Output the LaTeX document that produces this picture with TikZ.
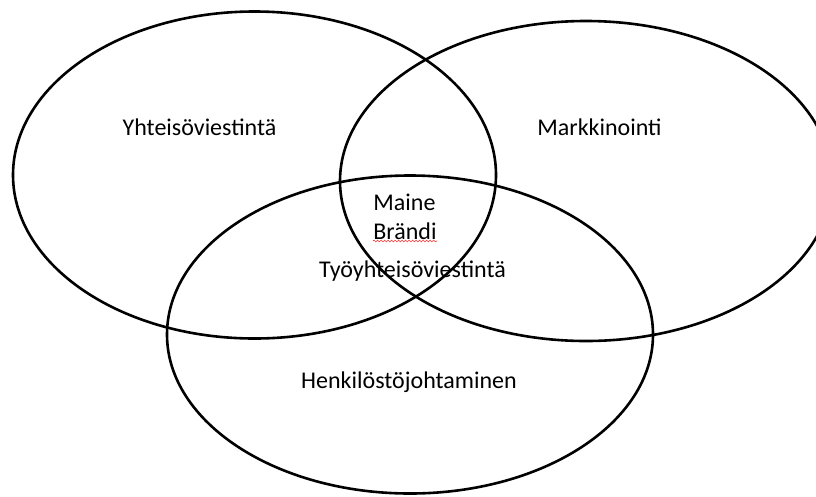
\documentclass[tikz,border=0pt]{standalone}
\usepackage{fontspec}
\setmainfont{Carlito}
\usetikzlibrary{shapes.geometric,decorations.pathmorphing}
\tikzset{
  set/.style={draw=black, line width=2.6pt, ellipse, inner sep=0pt, outer sep=0pt},
  lbl/.style={font=\fontsize{24}{29.5}\selectfont, inner sep=0pt, text=black},
  spell/.style={draw=red!80!white, line width=0.6pt, decorate, decoration={snake, amplitude=0.9pt, segment length=3.5pt}}
}
\begin{document}
\begin{tikzpicture}[x=1pt,y=-1pt]
\useasboundingbox (0,0) rectangle (816,496);
\clip (0,0) rectangle (816,496);
\node[set, minimum width=483pt, minimum height=327pt] (yht) at (254.5,175) {};
\node[set, minimum width=492pt, minimum height=320pt] (mark) at (586,181) {};
\node[set, minimum width=486pt, minimum height=318pt] (henk) at (410,334.5) {};
\node[lbl] (t1) at (199.5,127) {Yhteisöviestintä};
\node[lbl] (t2) at (599.5,127) {Markkinointi};
\node[lbl, align=left] (t3) at (405,217) {Maine\\Brändi};
\node[lbl] (t4) at (412.5,271) {Työyhteisöviestintä};
\node[lbl] (t5) at (409,382) {Henkilöstöjohtaminen};
\coordinate (s1) at (373,241);
\coordinate (s2) at (437,241);
\draw[spell] (s1) -- (s2);
\end{tikzpicture}
\end{document}
